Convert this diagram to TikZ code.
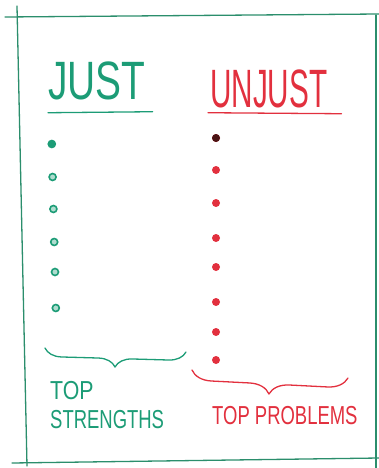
\documentclass[tikz,border=0pt]{standalone}
\usepackage{fontspec}
\setmainfont{Liberation Sans}
\definecolor{framegreen}{HTML}{2B8E6C}
\definecolor{justgreen}{HTML}{1C9C76}
\definecolor{unjustred}{HTML}{E2303E}
\definecolor{darkdot}{HTML}{4A1414}
\usepackage{tikz}
\usetikzlibrary{positioning,decorations.pathreplacing}
\tikzset{
  pen/.style     = {line width=1.3pt,line cap=round,line join=round},
  heading/.style = {inner sep=0pt,anchor=base west,
                     font=\fontsize{54}{54}\selectfont},
  caption/.style = {inner sep=0pt,anchor=north west,align=left,
                     font=\fontsize{26}{29}\selectfont},
  gdot/.style    = {circle,draw=justgreen,line width=1.6pt,fill=justgreen!35,
                     minimum size=7pt,inner sep=0pt},
  rdot/.style    = {circle,fill=unjustred,minimum size=8pt,inner sep=0pt},
  brc/.style     = {pen,decorate,decoration={brace,mirror,amplitude=#1}},
}

\begin{document}
\begin{tikzpicture}[x=1pt,y=-1pt]
  \useasboundingbox (0,0) rectangle (379,468);

  % hand drawn frame
  \draw[pen,framegreen] (5,17) -- (379,14);
  \draw[pen,framegreen] (17,6) -- (27,466);
  \draw[pen,framegreen] (12,463) -- (379,458);
  \draw[pen,framegreen] (376,15) -- (376,468);

  % column headings
  \node[heading,text=justgreen] (just) at (48,100) {\scalebox{0.72}[1]{JUST}};
  \node[heading,text=unjustred] (unjust) at (210,107) {\scalebox{0.55}[1]{UNJUST}};
  \draw[pen,justgreen] ([yshift=-12pt]just.south west) -- ([xshift=7pt,yshift=-11pt]just.south east);
  \draw[pen,unjustred] ([xshift=-2pt,yshift=-5pt]unjust.south west) -- ([xshift=14pt,yshift=-6pt]unjust.south east);

  % bullet points
  \foreach \y [count=\i] in {144,177,209,242,272,308}
     \node[gdot] (s\i) at ({51+0.8*\i},\y) {};
  \node[circle,fill=justgreen,minimum size=7pt,inner sep=0pt] at (s1) {};
  \foreach \y [count=\i] in {138,170,203,238,267,302,332,360}
     \node[rdot] (p\i) at (216,\y) {};
  \node[rdot,fill=darkdot] at (p1) {};

  % summaries
  \node[caption,text=justgreen] (strengths) at (50,381)
       {\scalebox{0.82}[1]{TOP}\\\scalebox{0.71}[1]{STRENGTHS}};
  \node[caption,text=unjustred] (problems) at (212,406)
       {\scalebox{0.71}[1]{TOP PROBLEMS}};
  \draw[brc=17pt,justgreen] (45,348) -- (186,352);
  \draw[brc=20pt,unjustred] (192,370) -- (348,378);
\end{tikzpicture}
\end{document}
